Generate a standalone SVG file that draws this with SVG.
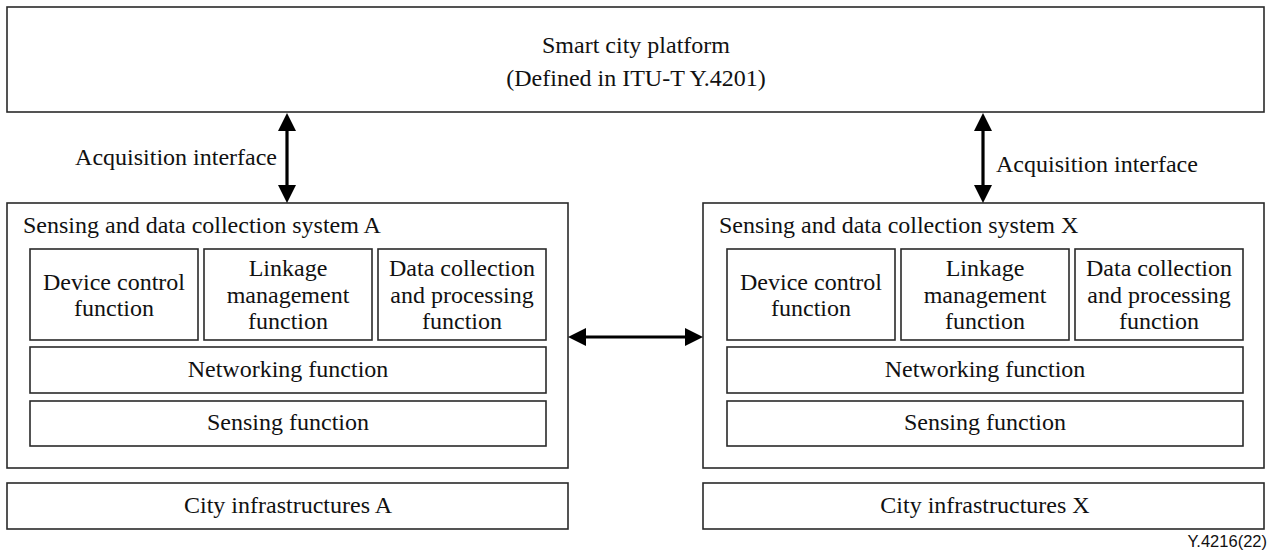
<svg xmlns="http://www.w3.org/2000/svg" width="1269" height="551" viewBox="0 0 1269 551">
<style>
.box{fill:#fff;stroke:#2a2a2a;stroke-width:1.6}
.t{font-family:"Liberation Serif","Times New Roman",serif;font-size:24px;fill:#111}
.c{text-anchor:middle}
.conn{stroke:#000;stroke-width:3.2;fill:none;marker-start:url(#ah);marker-end:url(#ah)}
.fig{font-family:"Liberation Sans",Arial,sans-serif;font-size:16.5px;fill:#111;text-anchor:end}
</style>
<defs>
<marker id="ah" markerUnits="userSpaceOnUse" markerWidth="19" markerHeight="19" refX="3" refY="9" orient="auto-start-reverse" viewBox="0 0 19 19">
<path d="M0,0 L18,9 L0,18 z" fill="#000"/>
</marker>
</defs>
<rect width="1269" height="551" fill="#fff"/>
<g id="platform">
<rect class="box" x="7" y="7" width="1257" height="105"/>
<text class="t c" x="636" y="53">Smart city platform</text>
<text class="t c" x="636" y="86">(Defined in ITU-T Y.4201)</text>
</g>
<g id="systemA">
<rect class="box" x="7" y="203" width="561" height="265"/>
<text class="t" x="23" y="233">Sensing and data collection system A</text>
</g>
<g id="deviceA"><rect class="box" x="30" y="249" width="168" height="91"/>
<text class="t c" x="114" y="290">Device control</text><text class="t c" x="114" y="316">function</text></g>
<g id="linkageA"><rect class="box" x="204" y="249" width="168" height="91"/>
<text class="t c" x="288" y="276">Linkage</text><text class="t c" x="288" y="303">management</text><text class="t c" x="288" y="329">function</text></g>
<g id="dataA"><rect class="box" x="378" y="249" width="168" height="91"/>
<text class="t c" x="462" y="276">Data collection</text><text class="t c" x="462" y="303">and processing</text><text class="t c" x="462" y="329">function</text></g>
<g id="networkingA"><rect class="box" x="30" y="347" width="516" height="46"/>
<text class="t c" x="288" y="377">Networking function</text></g>
<g id="sensingA"><rect class="box" x="30" y="401" width="516" height="45"/>
<text class="t c" x="288" y="430">Sensing function</text></g>
<g id="cityA"><rect class="box" x="7" y="483" width="561" height="46"/>
<text class="t c" x="288" y="513">City infrastructures A</text></g>
<g id="systemX">
<rect class="box" x="703" y="203" width="561" height="265"/>
<text class="t" x="719" y="233">Sensing and data collection system X</text>
</g>
<g id="deviceX"><rect class="box" x="727" y="249" width="168" height="91"/>
<text class="t c" x="811" y="290">Device control</text><text class="t c" x="811" y="316">function</text></g>
<g id="linkageX"><rect class="box" x="901" y="249" width="168" height="91"/>
<text class="t c" x="985" y="276">Linkage</text><text class="t c" x="985" y="303">management</text><text class="t c" x="985" y="329">function</text></g>
<g id="dataX"><rect class="box" x="1075" y="249" width="168" height="91"/>
<text class="t c" x="1159" y="276">Data collection</text><text class="t c" x="1159" y="303">and processing</text><text class="t c" x="1159" y="329">function</text></g>
<g id="networkingX"><rect class="box" x="727" y="347" width="516" height="46"/>
<text class="t c" x="985" y="377">Networking function</text></g>
<g id="sensingX"><rect class="box" x="727" y="401" width="516" height="45"/>
<text class="t c" x="985" y="430">Sensing function</text></g>
<g id="cityX"><rect class="box" x="703" y="483" width="561" height="46"/>
<text class="t c" x="985" y="513">City infrastructures X</text></g>
<g id="connectors">
<line class="conn" x1="287" y1="128" x2="287" y2="188"/>
<line class="conn" x1="983" y1="128" x2="983" y2="188"/>
<line class="conn" x1="583" y1="337" x2="688" y2="337"/>
<text class="t" x="277" y="165" text-anchor="end">Acquisition interface</text>
<text class="t" x="996" y="172">Acquisition interface</text>
</g>
<text class="fig" x="1267" y="547">Y.4216(22)</text>
</svg>
